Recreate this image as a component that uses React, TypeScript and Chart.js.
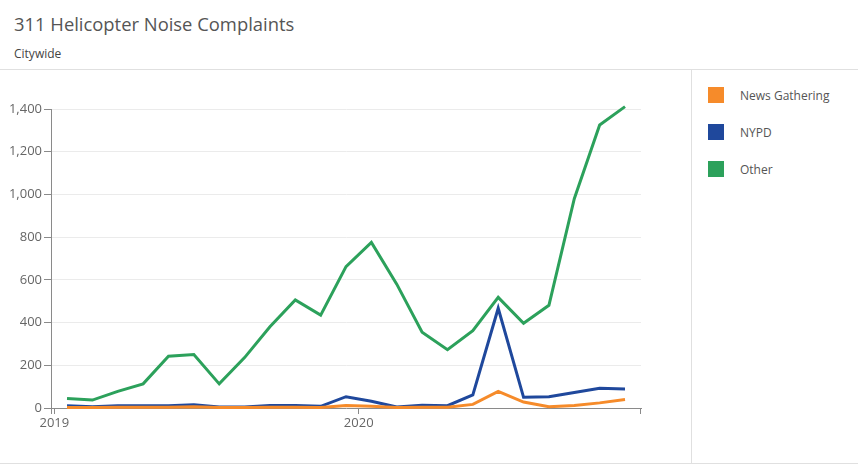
import React, { useEffect, useRef } from "react";
import { Chart, registerables } from "chart.js";

Chart.register(...registerables);

const months = [
  "2019-01", "2019-02", "2019-03", "2019-04", "2019-05", "2019-06",
  "2019-07", "2019-08", "2019-09", "2019-10", "2019-11", "2019-12",
  "2020-01", "2020-02", "2020-03", "2020-04", "2020-05", "2020-06",
  "2020-07", "2020-08", "2020-09", "2020-10", "2020-11",
];

const newsGathering = [2, 2, 3, 3, 3, 6, 2, 2, 3, 3, 2, 12, 8, 2, 3, 3, 17, 78, 28, 6, 12, 24, 40];
const nypd = [10, 6, 10, 10, 10, 15, 5, 5, 12, 12, 8, 53, 32, 5, 13, 11, 61, 467, 50, 53, 73, 92, 89];
const other = [44, 37, 78, 113, 242, 250, 113, 236, 380, 506, 435, 662, 775, 580, 355, 273, 362, 518, 397, 481, 980, 1325, 1411];

const yearTicks = [2019, 2020];
const yTicks = [0, 200, 400, 600, 800, 1000, 1200, 1400];

const seriesNames = ["News Gathering", "NYPD", "Other"];
const seriesColors = ["#f68b2a", "#1f489c", "#2ca15b"];

const FONT = "'Open Sans', sans-serif";

function monthToX(m: string): number {
  const [y, mo] = m.split("-").map(Number);
  return y + (mo - 0.5) / 12;
}

const endTicks = {
  id: "endTicks",
  afterDraw(chart: any) {
    const { ctx, chartArea } = chart;
    ctx.save();
    ctx.strokeStyle = "#8a8a8a";
    ctx.lineWidth = 1;
    ctx.beginPath();
    ctx.moveTo(Math.round(chartArea.left) + 0.5, chartArea.bottom);
    ctx.lineTo(Math.round(chartArea.left) + 0.5, chartArea.bottom + 6);
    ctx.moveTo(Math.round(chartArea.right) - 0.5, chartArea.bottom);
    ctx.lineTo(Math.round(chartArea.right) - 0.5, chartArea.bottom + 6);
    ctx.stroke();
    ctx.restore();
  },
};

export default function App() {
  const ref = useRef<HTMLCanvasElement>(null);

  useEffect(() => {
    const series = [newsGathering, nypd, other];
    const chart = new Chart(ref.current!, {
      type: "line",
      data: {
        datasets: series.map((vals, i) => ({
          label: seriesNames[i],
          data: vals.map((v, j) => ({ x: monthToX(months[j]), y: v })),
          borderColor: seriesColors[i],
          backgroundColor: seriesColors[i],
          borderWidth: 3,
          pointRadius: 0,
          tension: 0,
          clip: false as any,
        })),
      },
      options: {
        animation: false,
        responsive: false,
        maintainAspectRatio: false,
        layout: { padding: { top: 39, right: 49, left: 0, bottom: 0 } },
        plugins: { legend: { display: false }, tooltip: { enabled: false }, title: { display: false } },
        scales: {
          x: {
            type: "linear",
            min: 2018.989,
            max: 2020.9275,
            afterBuildTicks: (scale: any) => {
              scale.ticks = yearTicks.map((v) => ({ value: v }));
            },
            afterFit: (scale: any) => {
              scale.height = 55;
            },
            ticks: {
              callback: (v: any) => String(v),
              color: "#666",
              font: { family: FONT, size: 13 },
              padding: 1,
              maxRotation: 0,
              autoSkip: false,
            },
            grid: { drawOnChartArea: false, drawTicks: true, tickLength: 6, tickColor: "#8a8a8a" },
            border: { display: true, color: "#8a8a8a" },
          },
          y: {
            min: 0,
            max: 1400,
            afterBuildTicks: (scale: any) => {
              scale.ticks = yTicks.map((v) => ({ value: v }));
            },
            afterFit: (scale: any) => {
              scale.width = 51;
            },
            ticks: {
              callback: (v: any) => Number(v).toLocaleString("en-US"),
              color: "#666",
              font: { family: FONT, size: 13 },
              padding: 2,
            },
            grid: { color: "#ebebeb", tickLength: 7, tickColor: "#8a8a8a", lineWidth: 1 },
            border: { display: true, color: "#8a8a8a" },
          },
        },
      },
      plugins: [endTicks],
    });
    return () => chart.destroy();
  }, []);

  return (
    <div style={{ position: "fixed", left: 0, top: 0, width: 858, height: 465, background: "#fff", fontFamily: FONT, overflow: "hidden" }}>
      <div style={{ position: "absolute", left: 14, top: 10, fontSize: 18.4, color: "#555", lineHeight: "28px", whiteSpace: "nowrap" }}>
        311 Helicopter Noise Complaints
      </div>
      <div style={{ position: "absolute", left: 14, top: 45, fontSize: 12, color: "#444", lineHeight: "18px" }}>Citywide</div>
      <div style={{ position: "absolute", left: 0, top: 69, width: 858, height: 1, background: "#e0e0e0" }} />
      <div style={{ position: "absolute", left: 0, top: 463, width: 858, height: 1, background: "#e0e0e0" }} />
      <div style={{ position: "absolute", left: 691, top: 70, width: 1, height: 393, background: "#e0e0e0" }} />
      <canvas ref={ref} width={690} height={393} style={{ position: "absolute", left: 0, top: 70, width: 690, height: 393 }} />
      {seriesNames.map((n, i) => (
        <div key={n} style={{ position: "absolute", left: 708, top: 87 + i * 37, height: 16, display: "flex", alignItems: "center" }}>
          <div style={{ width: 16, height: 16, background: seriesColors[i] }} />
          <div style={{ marginLeft: 16, fontSize: 12, color: "#555", whiteSpace: "nowrap" }}>{n}</div>
        </div>
      ))}
    </div>
  );
}
